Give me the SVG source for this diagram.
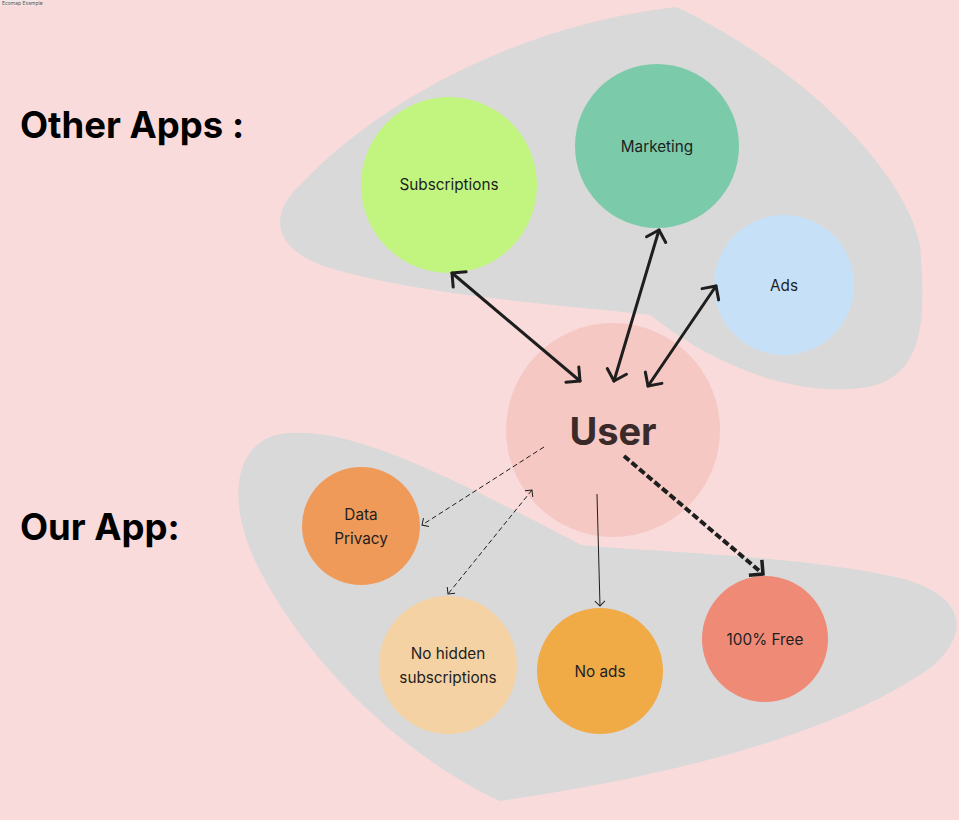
<svg xmlns="http://www.w3.org/2000/svg" width="959" height="820" viewBox="0 0 959 820">
<style>
.lbl{font-family:Inter,"Liberation Sans",sans-serif;font-size:15.3px;fill:#1e1e1e;text-anchor:middle}
.head{font-family:Inter,"Liberation Sans",sans-serif;font-weight:700;font-size:36.5px;fill:#000}
.thick{stroke:#1e1e1e;stroke-width:3;fill:none;stroke-linecap:round}
.thin{stroke:#1e1e1e;stroke-width:1;fill:none}
.blob{fill:#d9d9d9}
</style>
<defs>
<marker id="ah" markerUnits="userSpaceOnUse" markerWidth="30" markerHeight="30" viewBox="-15 -15 30 30" refX="0" refY="0" orient="auto-start-reverse">
<path d="M-10,-10 L0,0 L-10,10" fill="none" stroke="#1e1e1e" stroke-width="3" stroke-linecap="round" stroke-linejoin="round"/>
</marker>
<marker id="as" markerUnits="userSpaceOnUse" markerWidth="16" markerHeight="16" viewBox="-8 -8 16 16" refX="0" refY="0" orient="auto-start-reverse">
<path d="M-5,-5 L0,0 L-5,5" fill="none" stroke="#1e1e1e" stroke-width="1"/>
</marker>
<marker id="am" markerUnits="userSpaceOnUse" markerWidth="30" markerHeight="30" viewBox="-15 -15 30 30" refX="0" refY="0" orient="auto-start-reverse">
<path d="M-10,-10 L0,0 L-10,10" fill="none" stroke="#1e1e1e" stroke-width="3.5" stroke-linejoin="miter"/>
</marker>
</defs>
<rect width="959" height="820" fill="#f9dbdb"/>
<rect x="0" y="0" width="40" height="6" fill="#f3e6e6"/>
<text x="2" y="4.5" font-family="Inter,'Liberation Sans',sans-serif" font-size="5" fill="#555">Ecomap Example</text>

<g id="blobs">
<path class="blob" d="M650,315 C560,305 420,295 330,268 C272,250 268,215 300,185 C380,100 520,25 676,7 C800,65 905,170 920,245 C925,310 928,375 868,387 C800,398 720,370 650,315 Z"/>
<path class="blob" d="M581,545 C650,552 800,555 900,578 C975,598 965,640 930,668 C850,725 700,772 500,801 C420,765 320,680 265,580 C225,510 230,445 280,434 C340,425 420,460 581,545 Z"/>
</g>

<text class="head" x="20" y="138">Other Apps :</text>
<text class="head" x="20" y="540">Our App:</text>

<g id="user">
<circle cx="613" cy="430" r="107" fill="#f5c8c3"/>
<text x="613" y="445" text-anchor="middle" font-family="Inter,'Liberation Sans',sans-serif" font-weight="700" font-size="38" fill="#3a2a2a">User</text>
</g>
<g id="subscriptions">
<circle cx="449" cy="185" r="88" fill="#c1f580"/>
<text class="lbl" x="449" y="190">Subscriptions</text>
</g>
<g id="marketing">
<circle cx="657" cy="146" r="82" fill="#7bcbab"/>
<text class="lbl" x="657" y="152">Marketing</text>
</g>
<g id="ads">
<circle cx="784" cy="285" r="70" fill="#c6e1f7"/>
<text class="lbl" x="784" y="291">Ads</text>
</g>
<g id="data-privacy">
<circle cx="361" cy="526" r="59" fill="#f09a5a"/>
<text class="lbl" x="361" y="520">Data</text>
<text class="lbl" x="361" y="544">Privacy</text>
</g>
<g id="no-hidden">
<circle cx="448" cy="665" r="69" fill="#f4d2a4"/>
<text class="lbl" x="448" y="659">No hidden</text>
<text class="lbl" x="448" y="683">subscriptions</text>
</g>
<g id="no-ads">
<circle cx="600" cy="671" r="63" fill="#f0ab47"/>
<text class="lbl" x="600" y="677">No ads</text>
</g>
<g id="free">
<circle cx="765" cy="639" r="63" fill="#ee8a76"/>
<text class="lbl" x="765" y="645">100% Free</text>
</g>

<g id="connectors">
<line class="thick" x1="452" y1="273" x2="580" y2="381" marker-start="url(#ah)" marker-end="url(#ah)"/>
<line class="thick" x1="659" y1="230" x2="614" y2="381" marker-start="url(#ah)" marker-end="url(#ah)"/>
<line class="thick" x1="716" y1="286" x2="648" y2="386" marker-start="url(#ah)" marker-end="url(#ah)"/>
<line class="thin" x1="544" y1="447" x2="422" y2="525" stroke-dasharray="5 3" marker-end="url(#as)"/>
<line class="thin" x1="532" y1="490" x2="448" y2="594" stroke-dasharray="5 3" marker-start="url(#as)" marker-end="url(#as)"/>
<line class="thin" x1="597" y1="494" x2="600" y2="606" marker-end="url(#as)"/>
<line x1="624" y1="456" x2="763" y2="574" stroke="#1e1e1e" stroke-width="4" stroke-dasharray="7 3" fill="none" marker-end="url(#am)"/>
</g>
</svg>
